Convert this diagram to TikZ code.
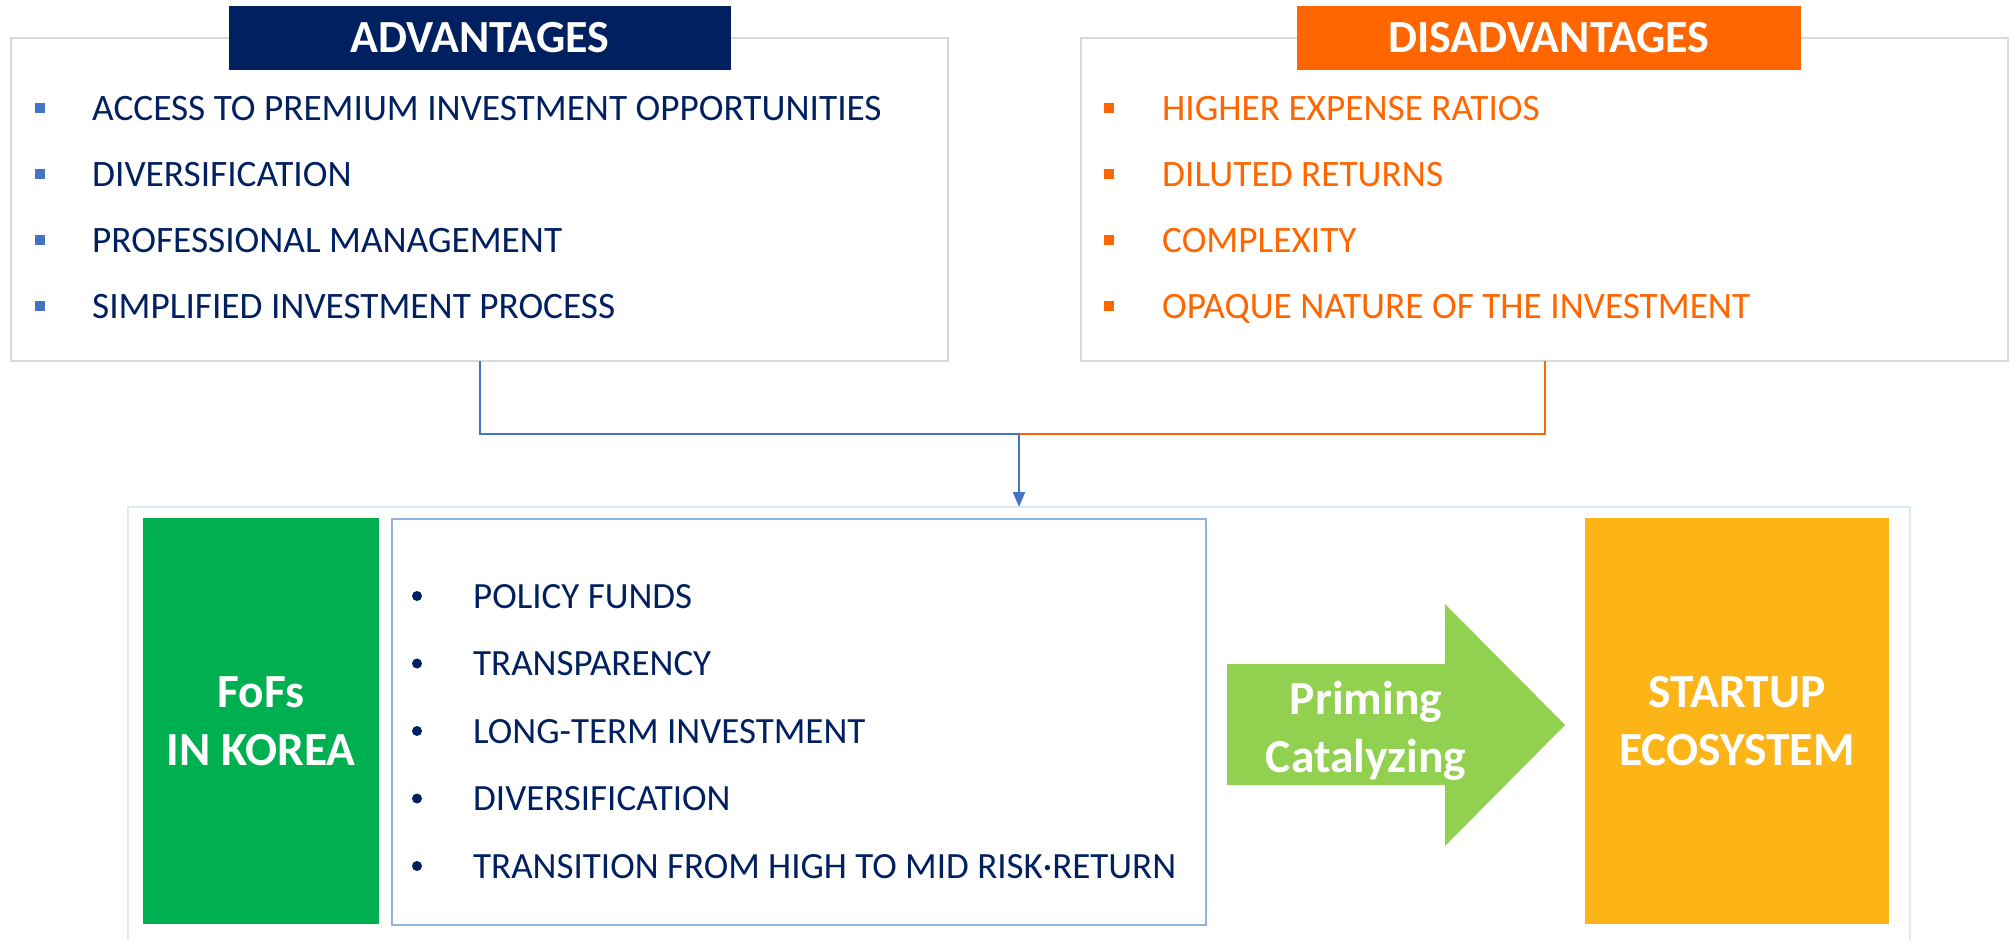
\documentclass[tikz,border=0pt]{standalone}
\usepackage{fontspec}
\setmainfont{Carlito}
\usetikzlibrary{arrows.meta}
\definecolor{navy}{HTML}{002060}
\definecolor{orng}{HTML}{FF6600}
\definecolor{bblue}{HTML}{4472C4}
\definecolor{panelgray}{HTML}{D9D9D9}
\definecolor{lightblue}{HTML}{DEEBF7}
\definecolor{listblue}{HTML}{8FB4E3}
\definecolor{fofgreen}{HTML}{00B050}
\definecolor{arrowgreen}{HTML}{92D050}
\definecolor{gold}{HTML}{FCB417}
\begin{document}
\begin{tikzpicture}[x=1pt,y=-1pt,
  panel/.style={draw=panelgray,line width=2.5pt,fill=white,inner sep=0pt,outer sep=0pt},
  header/.style={inner sep=0pt,outer sep=0pt,text=white,font=\fontsize{46}{50}\selectfont\bfseries,minimum width=502pt,minimum height=64pt},
  item/.style={anchor=base west,inner sep=0pt,font=\fontsize{37.3}{42}\selectfont},
  fitem/.style={anchor=base west,inner sep=0pt,font=\fontsize{37}{42}\selectfont,text=navy},
  sqbullet/.style={rectangle,inner sep=0pt,minimum size=10pt},
  dotbullet/.style={circle,fill=navy,inner sep=0pt,minimum width=10pt,minimum height=10pt},
  bigbox/.style={inner sep=0pt,outer sep=0pt,text=white,align=center,font=\fontsize{47.5}{58}\selectfont\bfseries},
  conn/.style={line width=2pt}
]
\useasboundingbox (0,0) rectangle (2010,940);
\fill[white] (0,0) rectangle (2010,940);

% top panels
\node[panel,minimum width=937pt,minimum height=323pt] (adv) at (479.5,199.5) {};
\node[panel,minimum width=927pt,minimum height=323pt] (dis) at (1544.5,199.5) {};
\node[header,fill=navy] (advh) at (480,38) {ADVANTAGES};
\node[header,fill=orng,minimum width=504pt] (dish) at (1549,38) {DISADVANTAGES};

\foreach \t [count=\i] in {ACCESS TO PREMIUM INVESTMENT OPPORTUNITIES,DIVERSIFICATION,PROFESSIONAL MANAGEMENT,SIMPLIFIED INVESTMENT PROCESS}{
  \node[sqbullet,fill=bblue] (ab\i) at (40,{108+66*(\i-1)}) {};
  \node[item,text=navy] (a\i) at (92,{120+66*(\i-1)}) {\t};
}
\foreach \t [count=\i] in {HIGHER EXPENSE RATIOS,DILUTED RETURNS,COMPLEXITY,OPAQUE NATURE OF THE INVESTMENT}{
  \node[sqbullet,fill=orng] (db\i) at (1108.5,{108+66*(\i-1)}) {};
  \node[item,text=orng] (d\i) at (1162,{120+66*(\i-1)}) {\t};
}

% bottom frame
\node[draw=lightblue,line width=2pt,inner sep=0pt,outer sep=0pt,minimum width=1782pt,minimum height=446pt,anchor=north west] (outer) at (128,507) {};

\node[bigbox,fill=fofgreen,minimum width=236pt,minimum height=406pt] (fofs) at (261,721) {FoFs\\IN KOREA};
\node[draw=listblue,line width=1.5pt,fill=white,inner sep=0pt,minimum width=814pt,minimum height=406pt] (list) at (799,722) {};
\foreach \t [count=\i] in {POLICY FUNDS,TRANSPARENCY,LONG-TERM INVESTMENT,DIVERSIFICATION,TRANSITION FROM HIGH TO MID RISK·RETURN}{
  \node[dotbullet] (fb\i) at (417,{596+67.5*(\i-1)}) {};
  \node[fitem] (f\i) at (473,{608+67.5*(\i-1)}) {\t};
}

\fill[arrowgreen] (1227,664) -- (1445,664) -- (1445,604) -- (1565,725) -- (1445,846) -- (1445,785) -- (1227,785) -- cycle;
\node[bigbox] (prime) at (1366,731) {Priming\\Catalyzing};

\node[bigbox,fill=gold,minimum width=304pt,minimum height=406pt] (eco) at (1737,721) {STARTUP\\ECOSYSTEM};

% connectors
\coordinate (j) at (outer.north |- 0,434);
\draw[conn,orng] (dis.south) |- (j);
\draw[conn,bblue,-{Triangle[width=12pt,length=15pt]}] (adv.south) |- (j) -- (outer.north);
\end{tikzpicture}
\end{document}
